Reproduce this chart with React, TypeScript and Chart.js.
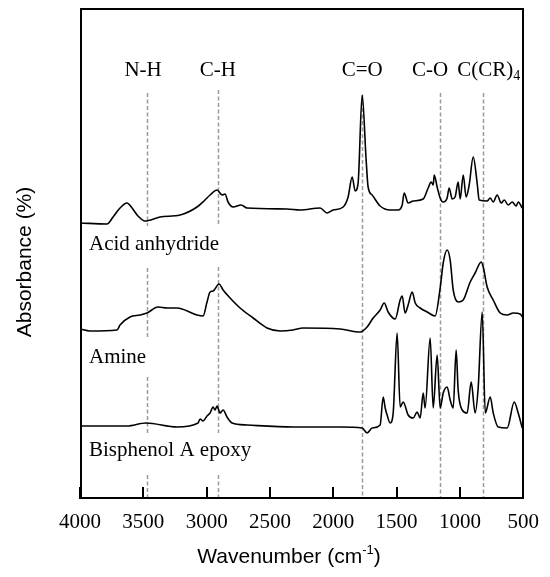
import React, { useEffect, useRef } from "react";
import { Chart, registerables } from "chart.js";

Chart.register(...registerables);

// ---------- data ----------
const xTickValues = [4000, 3500, 3000, 2500, 2000, 1500, 1000, 500];

const acidWn = [4000,3787,3739,3684,3629,3589,3542,3487,3368,3210,3076,3013,2973,2918,2878,2855,2831,2791,2728,2681,2365,2262,2104,2049,2001,1922,1883,1851,1827,1804,1772,1741,1725,1693,1630,1551,1488,1456,1440,1409,1369,1290,1251,1227,1211,1203,1180,1156,1132,1101,1085,1061,1038,1014,998,974,951,927,895,864,848,785,761,737,706,674,650,619,587,556,540,508];
const acidAbs = [27.6,27.5,28.2,29.1,29.6,29.1,28.3,27.8,28.2,28.4,29.2,29.9,30.4,30.9,30.4,30.5,29.7,29.2,29.4,29.1,29.0,28.9,29.1,28.6,28.9,29.2,30.2,32.2,30.8,31.6,40.4,34.0,31.2,30.4,29.3,28.9,28.9,29.4,30.6,29.6,29.8,30.0,31.1,31.7,31.4,32.4,31.2,30.1,29.7,30.1,31.1,30.0,30.2,31.7,30.0,32.4,30.2,31.4,34.2,31.6,29.9,29.8,30.1,29.7,30.4,29.6,29.9,29.4,29.7,29.3,29.7,29.1];

const amineWn = [4000,3921,3708,3684,3605,3526,3471,3384,3313,3234,3076,3028,2997,2973,2949,2902,2870,2815,2736,2633,2523,2420,2317,2238,1946,1788,1733,1685,1630,1598,1567,1511,1472,1456,1433,1409,1377,1353,1314,1259,1196,1156,1132,1101,1077,1053,1014,974,919,880,832,816,785,737,682,627,579,524,500];
const amineAbs = [17.0,16.8,16.9,17.4,18.2,18.4,18.6,19.2,19.1,19.1,18.4,18.3,19.7,20.7,20.8,21.5,20.9,20.1,19.1,18.1,17.1,16.8,16.9,17.1,17.0,16.7,17.2,18.1,18.9,19.6,18.7,18.0,19.9,20.3,18.6,19.4,20.7,19.6,19.1,18.7,18.3,21.1,23.6,24.9,23.9,20.9,19.7,19.9,21.7,22.6,23.7,23.2,21.2,19.9,18.6,18.4,18.6,18.5,18.1];

const epoxyWn = [4000,3629,3479,3234,3068,3052,3028,2997,2973,2949,2934,2918,2894,2870,2839,2799,2681,2317,1946,1772,1733,1693,1630,1606,1590,1575,1551,1527,1496,1472,1448,1409,1369,1338,1314,1290,1275,1235,1211,1180,1156,1132,1101,1077,1053,1030,1014,982,943,911,880,856,824,800,761,737,698,627,571,540,508];
const epoxyAbs = [7.3,7.3,7.6,7.2,7.6,8.0,7.8,8.3,8.6,9.2,8.9,9.3,8.6,8.9,8.2,7.6,7.4,7.2,7.2,7.1,6.6,7.1,7.4,10.2,9.1,8.4,7.6,8.6,16.6,9.2,9.7,8.4,8.1,8.7,8.1,10.6,9.1,16.1,9.1,14.4,9.1,10.6,11.2,9.9,9.1,14.9,10.9,8.9,8.6,11.7,8.6,11.1,18.7,8.6,10.2,8.6,7.2,7.1,9.7,8.6,7.1];

const seriesNames = ["Acid anhydride", "Amine", "Bisphenol A epoxy"];
const seriesLabelWn = [3929, 3929, 3929];
const seriesLabelAbs = [25.5, 14.2, 4.9];

const bandNames = ["N-H", "C-H", "C=O", "C-O", "C(CR)"];
const bandSub = ["", "", "", "", "4"];
const bandWn = [3468, 2911, 1772, 1158, 821];
const bandLabelWn = [3502, 2911, 1772, 1235, 1022];
const bandLabelAlign = ["center", "center", "center", "center", "left"];
const bandLabelAbs = 42.9;
// visible dashed extents [top, bottom] in absorbance units
const bandSegments = [
  [[40.6, 27.3], [23.1, 16.2], [12.2, 6.6], [2.4, 0]],
  [[40.9, 27.4], [23.2, 6.6], [2.4, 0]],
  [[40.4, 0]],
  [[40.6, 0]],
  [[40.6, 0]],
];

const yMin = 0;
const yMax = 49.1;

const SERIF = '"Liberation Serif", "Times New Roman", serif';
const SANS = '"Liberation Sans", Arial, sans-serif';

const zip = (xs: number[], ys: number[]) =>
  xs.slice(0, Math.min(xs.length, ys.length)).map((x, i) => ({ x, y: ys[i] }));

const decorPlugin = {
  id: "decor",
  beforeDatasetsDraw(chart: any) {
    const { ctx } = chart;
    const xs = chart.scales.x;
    const ys = chart.scales.y;
    ctx.save();
    ctx.strokeStyle = "#9a9a9a";
    ctx.lineWidth = 1.5;
    ctx.setLineDash([4, 2.5]);
    bandWn.forEach((wn, i) => {
      const px = Math.round(xs.getPixelForValue(wn)) + 0.5;
      bandSegments[i].forEach(([top, bot]) => {
        ctx.beginPath();
        ctx.moveTo(px, ys.getPixelForValue(top));
        ctx.lineTo(px, ys.getPixelForValue(bot));
        ctx.stroke();
      });
    });
    ctx.restore();
  },
  afterDraw(chart: any) {
    const { ctx, chartArea } = chart;
    const xs = chart.scales.x;
    const ys = chart.scales.y;
    const left = Math.round(chartArea.left);
    const right = Math.round(chartArea.right);
    const top = Math.round(chartArea.top);
    const bottom = Math.round(chartArea.bottom);
    ctx.save();
    ctx.setLineDash([]);
    ctx.fillStyle = "#000";
    // frame (filled bars, 2px)
    ctx.fillRect(left, top, right - left + 1, 2);
    ctx.fillRect(left, bottom - 2, right - left + 1, 2);
    ctx.fillRect(left, top, 2, bottom - top);
    ctx.fillRect(right - 1, top, 2, bottom - top);
    // inward ticks
    xTickValues.forEach((v) => {
      const px = Math.round(xs.getPixelForValue(v));
      ctx.fillRect(px - 1, bottom - 12, 2, 12);
    });
    // band labels
    ctx.textBaseline = "middle";
    bandNames.forEach((name, i) => {
      const px = xs.getPixelForValue(bandLabelWn[i]);
      const py = ys.getPixelForValue(bandLabelAbs);
      ctx.textAlign = bandLabelAlign[i] as CanvasTextAlign;
      ctx.font = `21px ${SERIF}`;
      ctx.fillText(name, px, py);
      if (bandSub[i]) {
        const w = ctx.measureText(name).width;
        ctx.font = `14px ${SERIF}`;
        ctx.textAlign = "left";
        ctx.fillText(bandSub[i], px + w, py + 6);
      }
    });
    // series labels
    ctx.font = `21px ${SERIF}`;
    ctx.textAlign = "left";
    seriesNames.forEach((name, i) => {
      ctx.fillText(name, xs.getPixelForValue(seriesLabelWn[i]), ys.getPixelForValue(seriesLabelAbs[i]));
    });
    // y title
    ctx.save();
    ctx.translate(25, 262);
    ctx.rotate(-Math.PI / 2);
    ctx.font = `21px ${SANS}`;
    ctx.textAlign = "center";
    ctx.fillText("Absorbance (%)", 0, 0);
    ctx.restore();
    // x title with superscript
    const main = "Wavenumber (cm";
    const sup = "-1";
    const end = ")";
    ctx.font = `21px ${SANS}`;
    const w1 = ctx.measureText(main).width;
    const w3 = ctx.measureText(end).width;
    ctx.font = `13px ${SANS}`;
    const w2 = ctx.measureText(sup).width;
    const total = w1 + w2 + w3;
    let sx = 289 - total / 2;
    const sy = 557;
    ctx.textAlign = "left";
    ctx.font = `21px ${SANS}`;
    ctx.fillText(main, sx, sy);
    sx += w1;
    ctx.font = `13px ${SANS}`;
    ctx.fillText(sup, sx, sy - 7);
    sx += w2;
    ctx.font = `21px ${SANS}`;
    ctx.fillText(end, sx, sy);
    ctx.restore();
  },
};

export default function App() {
  const canvasRef = useRef<HTMLCanvasElement | null>(null);

  useEffect(() => {
    if (!canvasRef.current) return;
    const lineStyle = {
      borderColor: "#000",
      borderWidth: 1.6,
      pointRadius: 0,
      fill: false,
      cubicInterpolationMode: "monotone" as const,
    };
    const chart = new Chart(canvasRef.current, {
      type: "line",
      data: {
        datasets: [
          { label: seriesNames[0], data: zip(acidWn, acidAbs), ...lineStyle },
          { label: seriesNames[1], data: zip(amineWn, amineAbs), ...lineStyle },
          { label: seriesNames[2], data: zip(epoxyWn, epoxyAbs), ...lineStyle },
        ],
      },
      options: {
        animation: false,
        responsive: false,
        devicePixelRatio: 1,
        layout: { padding: { left: 80, right: 25, top: 8, bottom: 0 } },
        plugins: { legend: { display: false }, tooltip: { enabled: false } },
        scales: {
          x: {
            type: "linear",
            reverse: true,
            min: 500,
            max: 4000,
            grid: { display: false, drawTicks: false },
            border: { display: false },
            ticks: {
              stepSize: 500,
              autoSkip: false,
              maxRotation: 0,
              padding: 11,
              color: "#000",
              font: { family: SERIF, size: 21 },
              callback: (v: any) => String(v),
            },
            afterFit: (s: any) => {
              s.height = 78;
            },
          },
          y: {
            type: "linear",
            display: false,
            min: yMin,
            max: yMax,
          },
        },
      },
      plugins: [decorPlugin],
    });
    return () => chart.destroy();
  }, []);

  return (
    <div style={{ position: "absolute", left: 0, top: 0, width: 550, height: 577, background: "#fff" }}>
      <canvas ref={canvasRef} width={550} height={577} style={{ display: "block" }} />
    </div>
  );
}
